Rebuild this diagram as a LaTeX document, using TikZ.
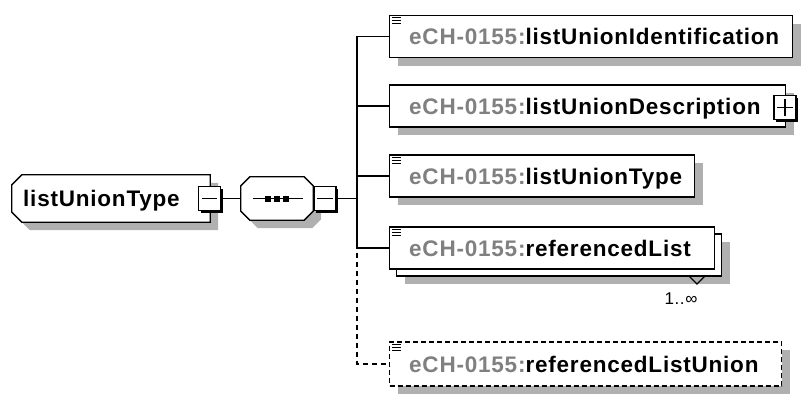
\documentclass[tikz,border=0pt]{standalone}
\usepackage{fontspec}
\setmainfont{Liberation Sans}
\newfontfamily\diagfont[LetterSpace=3.5]{Liberation Sans}
\usetikzlibrary{shadows}

\definecolor{prefixgray}{RGB}{128,128,128}
\definecolor{shadowgray}{RGB}{176,176,176}
\newcommand{\pfx}{\textcolor{prefixgray}{eCH-0155:}}
% the little "documented" mark in the corner of an element
\newcommand{\docmark}[1]{%
  \foreach \dy in {3,6,9}
    \draw[line width=1.1pt] ([shift={(3,\dy)}]#1.north west) -- ++(9,0);}

\begin{document}
\begin{tikzpicture}[x=1pt, y=-1pt,
    grayshadow/.style={drop shadow={shadow xshift=8pt, shadow yshift=-8pt,
        fill=shadowgray, opacity=1}},
    outline/.style={draw, line width=1.3pt, fill=white},
    frame/.style={minimum width=#1, inner sep=0pt},
    elem/.style={draw, line width=1.3pt, fill=white, minimum height=42pt,
        inner sep=0pt, anchor=west},
    lbl/.style={anchor=base west, inner sep=0pt,
        font=\diagfont\bfseries\fontsize{22.5}{26}\selectfont},
    togglebox/.style={draw, line width=1.1pt, fill=white, minimum width=22pt,
        minimum height=24pt, inner sep=0pt,
        drop shadow={shadow xshift=2pt, shadow yshift=-2pt, fill=black, opacity=1}},
    conn/.style={line width=1.2pt}]
    \useasboundingbox (0,0) rectangle (805,394);

    % root type
    \node[frame=198pt, minimum height=47pt] (root) at (111,198.5) {};
    \path[outline, grayshadow] ([xshift=10pt]root.north west) -- (root.north east)
        -- (root.south east) -- ([xshift=10pt]root.south west)
        -- ([shift={(0,-10)}]root.south west) -- ([shift={(0,10)}]root.north west)
        -- cycle;
    \node[lbl] (roottxt) at (23,206) {listUnionType};
    \node[togglebox] (rootmin) at (209.5,198.5) {};
    \draw[conn] ([xshift=4pt]rootmin.west) -- ([xshift=-4pt]rootmin.east);

    % sequence compositor
    \node[frame=72pt, minimum height=43pt] (seq) at (277,198.5) {};
    \path[outline, grayshadow] ([xshift=9pt]seq.north west) -- ([xshift=-9pt]seq.north east)
        -- ([shift={(0,9)}]seq.north east) -- ([shift={(0,-9)}]seq.south east)
        -- ([xshift=-9pt]seq.south east) -- ([xshift=9pt]seq.south west)
        -- ([shift={(0,-9)}]seq.south west) -- ([shift={(0,9)}]seq.north west)
        -- cycle;
    \draw[conn] ([xshift=12pt]seq.west) -- ([xshift=-10pt]seq.east);
    \foreach \i in {-9,0,9}
        \fill ([xshift=\i pt]seq.center) +(-3,-3) rectangle +(3,3);
    \node[togglebox] (seqmin) at (325,198.5) {};
    \draw[conn] ([xshift=4pt]seqmin.west) -- ([xshift=-4pt]seqmin.east);

    \draw[conn] (rootmin.east) -- (seq.west);
    \coordinate (bus) at (357,198.5);
    \draw[conn] (seqmin.east) -- (bus);

    % child elements
    \node[elem, grayshadow, minimum width=403pt] (ident) at (389,36.5) {};
    \docmark{ident}
    \node[lbl] (identtxt) at ([shift={(20,8)}]ident.west) {\pfx listUnionIdentification};

    \node[elem, grayshadow, minimum width=396pt] (desc) at (389,106) {};
    \node[lbl] (desctxt) at ([shift={(20,8)}]desc.west) {\pfx listUnionDescription};
    \node[togglebox] (descplus) at (785,107.5) {};
    \draw[conn] ([xshift=4pt]descplus.west) -- ([xshift=-4pt]descplus.east);
    \draw[conn] ([yshift=-4pt]descplus.north) -- ([yshift=4pt]descplus.south);

    \node[elem, grayshadow, minimum width=305pt] (ltype) at (389,176) {};
    \docmark{ltype}
    \node[lbl] (ltypetxt) at ([shift={(20,8)}]ltype.west) {\pfx listUnionType};

    \node[elem, grayshadow, minimum width=325pt] (reflistback) at (396,255) {};
    \draw[line width=1.1pt] (689,276) -- (697,284) -- (705,276);
    \node[elem, minimum width=325pt] (reflist) at (389,248) {};
    \docmark{reflist}
    \node[lbl] (reflisttxt) at ([shift={(20,8)}]reflist.west) {\pfx referencedList};
    \node[anchor=base, inner sep=0pt, font=\diagfont\fontsize{17}{20}\selectfont]
        (reflistocc) at (681,304) {1..∞};

    \node[elem, grayshadow, dashed, dash pattern=on 5pt off 3pt,
        minimum width=392pt, minimum height=44pt] (refunion) at (389,364) {};
    \docmark{refunion}
    \node[lbl] (refuniontxt) at ([shift={(20,8)}]refunion.west) {\pfx referencedListUnion};

    % connectors from the sequence
    \draw[conn] (bus) |- (ident.west);
    \draw[conn] (bus) |- (desc.west);
    \draw[conn] (bus) |- (ltype.west);
    \draw[conn] (bus) |- (reflist.west);
    \draw[conn, dashed, dash pattern=on 5pt off 4pt] (bus) |- (refunion.west);
\end{tikzpicture}
\end{document}
